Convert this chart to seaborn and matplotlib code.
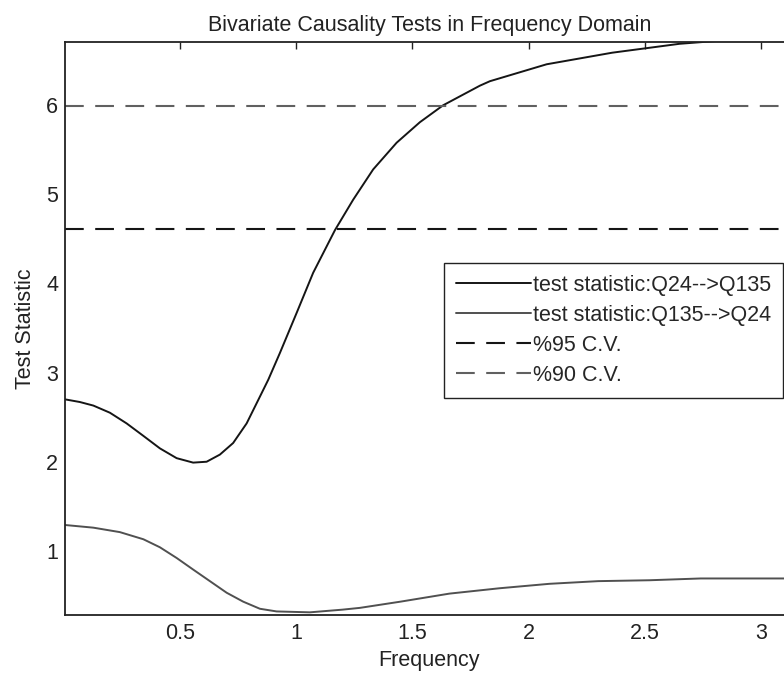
import numpy as np
import pandas as pd
import matplotlib
matplotlib.use('Agg')
import matplotlib.pyplot as plt
import seaborn as sns

# frekvencije i statistike ocitane sa slike
freq_a = [0.007, 0.071, 0.129, 0.20, 0.272, 0.344, 0.415, 0.487, 0.558, 0.616,
          0.673, 0.730, 0.788, 0.845, 0.881, 0.931, 1.003, 1.074, 1.168, 1.246,
          1.332, 1.433, 1.533, 1.633, 1.791, 1.834, 2.078, 2.36, 2.65, 2.80, 3.1416]
stat_a = [2.70, 2.67, 2.63, 2.55, 2.43, 2.29, 2.15, 2.04, 1.99, 2.00,
          2.08, 2.21, 2.43, 2.73, 2.92, 3.22, 3.67, 4.12, 4.60, 4.94,
          5.28, 5.58, 5.81, 6.00, 6.22, 6.27, 6.46, 6.59, 6.69, 6.72, 6.75]

freq_b = [0.007, 0.129, 0.243, 0.344, 0.415, 0.487, 0.558, 0.630, 0.702, 0.773,
          0.845, 0.917, 1.06, 1.20, 1.275, 1.45, 1.66, 1.875, 2.09, 2.30,
          2.52, 2.74, 3.1416]
stat_b = [1.29, 1.26, 1.21, 1.13, 1.04, 0.92, 0.79, 0.66, 0.53, 0.43,
          0.35, 0.32, 0.31, 0.34, 0.36, 0.43, 0.52, 0.58, 0.63, 0.66,
          0.67, 0.69, 0.69]

cv95 = 4.61
cv90 = 5.99

labels = ['test statistic:Q24-->Q135', 'test statistic:Q135-->Q24',
          '%95 C.V.', '%90 C.V.']
xticks = [0.5, 1, 1.5, 2, 2.5, 3]
yticks = [1, 2, 3, 4, 5, 6]

sns.set_style('white')
plt.rcParams['font.family'] = ['Liberation Sans', 'DejaVu Sans']
fs = 15.5

fig = plt.figure(figsize=(7.84, 6.77), dpi=100)
W, H = 784, 677
ax = fig.add_axes([65 / W, (H - 615) / H, (794 - 65) / W, (615 - 42) / H])

df_a = pd.DataFrame({'f': freq_a, 's': stat_a})
df_b = pd.DataFrame({'f': freq_b, 's': stat_b})
sns.lineplot(data=df_a, x='f', y='s', ax=ax, color='#151515', lw=1.4, label=labels[0])
sns.lineplot(data=df_b, x='f', y='s', ax=ax, color='#505050', lw=1.4, label=labels[1])
ax.axhline(cv95, color='#151515', lw=1.5, dashes=(9, 5.5), label=labels[2])
ax.axhline(cv90, color='#606060', lw=1.5, dashes=(9, 5.5), label=labels[3])

ax.set_xlim(0.007, np.pi)
ax.set_ylim(0.28, 6.71)
ax.set_xticks(xticks)
ax.set_xticklabels(['0.5', '1', '1.5', '2', '2.5', '3'])
ax.set_yticks(yticks)
ax.tick_params(direction='in', length=5, width=1, top=True, right=True,
               labelsize=fs, colors='#222222')
ax.tick_params(axis='x', pad=6)
ax.tick_params(axis='y', pad=5)
for sp in ax.spines.values():
    sp.set_color('#222222')
    sp.set_linewidth(1.3)

ax.set_xlabel('Frequency', fontsize=fs, color='#222222', labelpad=4)
ax.set_ylabel('Test Statistic', fontsize=fs, color='#222222', labelpad=7)
ax.set_title('Bivariate Causality Tests in Frequency Domain', fontsize=fs,
             color='#222222', pad=8)

leg = ax.legend(loc='upper right', bbox_to_anchor=(783 / W, 1 - 263 / H),
                bbox_transform=fig.transFigure, borderaxespad=0, fontsize=fs,
                handlelength=3.5, handletextpad=0.1, labelspacing=0.42,
                borderpad=0.55, fancybox=False, framealpha=1)
leg.get_frame().set_edgecolor('#222222')
leg.get_frame().set_linewidth(1.0)

fig.savefig('out.png', dpi=100)
